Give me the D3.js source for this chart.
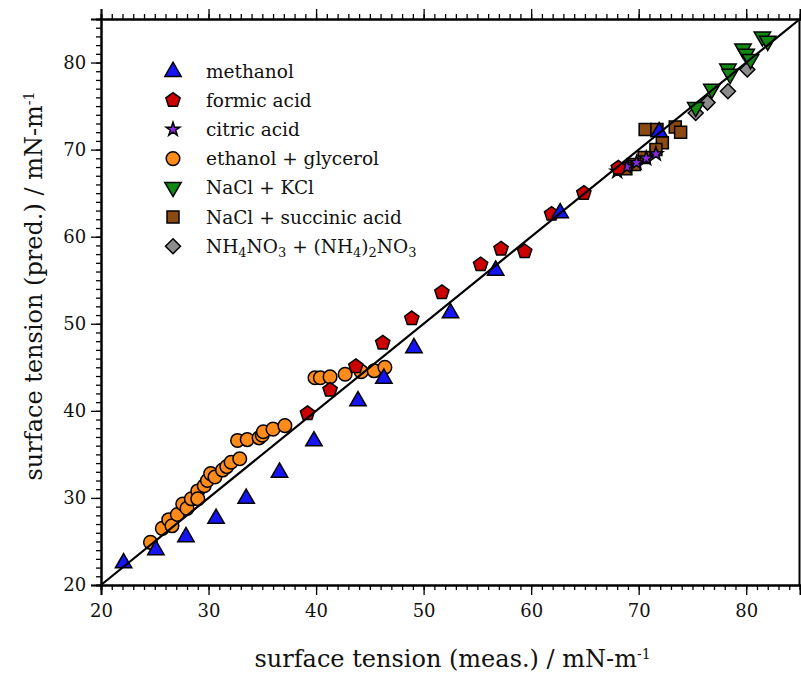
<!DOCTYPE html>
<html>
<head>
<meta charset="utf-8">
<script src="https://cdn.jsdelivr.net/npm/d3@7"></script>
<style>
  body { margin: 0; background: #fff; }
  text { font-family: "DejaVu Serif", "Liberation Serif", serif; fill: #111; }
</style>
</head>
<body>
<svg width="801" height="680"></svg>
<script>
const methanol = [[22.1,22.6],[25.1,24.1],[27.9,25.6],[30.7,27.7],[33.5,30.0],[36.6,33.0],[39.8,36.6],[43.9,41.2],[46.3,43.8],[49.1,47.3],[52.5,51.3],[56.7,56.2],[62.7,62.8],[71.9,72.1]];
const formicAcid = [[39.2,39.7],[41.3,42.4],[43.7,45.1],[46.2,47.8],[48.9,50.6],[51.7,53.6],[55.3,56.8],[57.2,58.6],[59.4,58.3],[61.9,62.6],[64.9,65.0],[68.1,67.9]];
const citricAcid = [[68.0,67.5],[68.9,68.0],[69.8,68.5],[70.7,69.0],[71.6,69.5]];
const ethanolGlycerol = [[24.6,24.9],[25.7,26.5],[26.3,27.5],[26.6,26.8],[27.1,28.1],[27.6,29.3],[28.0,28.8],[28.4,29.9],[29.0,30.8],[29.0,29.9],[29.6,31.4],[29.9,32.0],[30.2,32.8],[30.6,32.4],[31.3,33.2],[31.7,33.6],[32.1,34.1],[32.9,34.5],[32.7,36.6],[33.6,36.7],[34.7,36.9],[35.0,37.2],[35.1,37.6],[36.0,37.9],[37.1,38.3],[39.9,43.8],[40.4,43.8],[41.3,43.9],[42.7,44.2],[44.2,44.5],[45.4,44.6],[46.4,45.0]];
const naclKcl = [[81.5,82.9],[82.0,82.4],[79.7,81.5],[80.0,80.9],[80.4,80.3],[78.3,79.2],[78.5,78.6],[76.8,76.9],[75.3,74.8]];
const naclSuccinic = [[70.6,72.3],[71.7,72.3],[73.4,72.6],[73.9,72.0],[72.2,70.8],[71.6,70.0],[70.5,69.1],[69.6,68.3],[68.8,67.8]];
const ammonium = [[80.1,79.2],[78.3,76.7],[76.4,75.4],[75.3,74.2]];

const seriesNames = ["methanol","formic acid","citric acid","ethanol + glycerol","NaCl + KCl","NaCl + succinic acid","NH4NO3 + (NH4)2NO3"];
const seriesData = [methanol, formicAcid, citricAcid, ethanolGlycerol, naclKcl, naclSuccinic, ammonium];
const seriesShapes = ["triangle","pentagon","star","circle","triangleDown","square","diamond"];
const seriesColors = ["#1414f5","#cc0000","#8a2be2","#ff8c1a","#118811","#8b4a12","#8c8c8c"];

const xDomain = [20, 85];
const yDomain = [20, 85];
const majorTicks = [20, 30, 40, 50, 60, 70, 80];
const minorTicks = d3.range(20, 86, 1);

const svg = d3.select("svg");
const margin = {left: 101, right: 1, top: 19, bottom: 95};
const width = 801, height = 680;

const x = d3.scaleLinear().domain(xDomain).range([margin.left, width - margin.right]);
const y = d3.scaleLinear().domain(yDomain).range([height - margin.bottom, margin.top]);

// marker paths, r roughly = half the marker width
function shape(type, r) {
  if (type === "circle") return d3.symbol(d3.symbolCircle, Math.PI * r * r)();
  if (type === "square") return `M${-r},${-r}H${r}V${r}H${-r}Z`;
  if (type === "diamond") return `M0,${-r}L${r},0L0,${r}L${-r},0Z`;
  if (type === "star") return d3.symbol(d3.symbolStar, r * r * 2.2)();
  if (type === "triangle" || type === "triangleDown") {
    const s = type === "triangle" ? 1 : -1;
    const h = r * Math.sqrt(3);
    return `M0,${-s * h * 0.62}L${r},${s * h * 0.38}L${-r},${s * h * 0.38}Z`;
  }
  if (type === "pentagon") {
    const pts = d3.range(5).map(i => {
      const a = -Math.PI / 2 + i * 2 * Math.PI / 5;
      return [r * Math.cos(a), r * Math.sin(a)];
    });
    return "M" + pts.map(p => p.join(",")).join("L") + "Z";
  }
}
const shapeSize = {circle: 6.8, square: 6, diamond: 7.5, star: 5.2, triangle: 8.2, triangleDown: 8.2, pentagon: 7.5};

// axes
const bottomAxis = svg.append("g").attr("transform", `translate(0,${y(20)})`);
bottomAxis.call(d3.axisBottom(x).tickValues(minorTicks).tickSize(5).tickFormat(""));
bottomAxis.call(g => g.append("g").call(d3.axisBottom(x).tickValues(majorTicks).tickSize(10).tickFormat(d3.format("d"))));
const topAxis = svg.append("g").attr("transform", `translate(0,${y(85)})`);
topAxis.call(d3.axisTop(x).tickValues(minorTicks).tickSize(5).tickFormat(""));
topAxis.call(g => g.append("g").call(d3.axisTop(x).tickValues(majorTicks).tickSize(10).tickFormat("")));
const leftAxis = svg.append("g").attr("transform", `translate(${x(20)},0)`);
leftAxis.call(d3.axisLeft(y).tickValues(minorTicks).tickSize(5).tickFormat(""));
leftAxis.call(g => g.append("g").call(d3.axisLeft(y).tickValues(majorTicks).tickSize(10).tickFormat(d3.format("d"))));
const rightAxis = svg.append("g").attr("transform", `translate(${x(85) - 1},0)`);
rightAxis.call(d3.axisRight(y).tickValues([]).tickSizeOuter(0));

svg.selectAll(".domain").attr("stroke", "#000").attr("stroke-width", 2);
svg.selectAll(".tick line").attr("stroke", "#000").attr("stroke-width", 1.3);
svg.selectAll(".tick text").style("font-size", "18px").attr("fill", "#111");
bottomAxis.selectAll(".tick text").attr("dy", "1.05em");
leftAxis.selectAll(".tick text").attr("dx", "-0.1em");

// markers, last legend entry drawn first
const markerGroup = svg.append("g");
seriesData.map((d, i) => i).reverse().forEach(i => {
  markerGroup.append("g").selectAll("path")
    .data(seriesData[i])
    .join("path")
    .attr("transform", d => `translate(${x(d[0])},${y(d[1])})`)
    .attr("d", shape(seriesShapes[i], shapeSize[seriesShapes[i]]))
    .attr("fill", seriesColors[i])
    .attr("stroke", "#000")
    .attr("stroke-width", 1.5);
});

// 1:1 line
svg.append("line")
  .attr("x1", x(20)).attr("y1", y(20))
  .attr("x2", x(85)).attr("y2", y(85))
  .attr("stroke", "#000").attr("stroke-width", 2.2);

// legend
const legend = svg.append("g").attr("transform", "translate(173,71)");
seriesNames.forEach((name, i) => {
  const row = legend.append("g").attr("transform", `translate(0,${i * 29.2})`);
  row.append("path")
    .attr("d", shape(seriesShapes[i], shapeSize[seriesShapes[i]]))
    .attr("fill", seriesColors[i]).attr("stroke", "#000").attr("stroke-width", 1.5);
  const t = row.append("text").attr("x", 33).attr("y", 6.5).style("font-size", "18.5px");
  if (i === 6) {
    const parts = [["NH", 0], ["4", 1], ["NO", 0], ["3", 1], [" + (NH", 0], ["4", 1], [")", 0], ["2", 1], ["NO", 0], ["3", 1]];
    parts.forEach(p => {
      t.append("tspan").text(p[0])
        .attr("baseline-shift", p[1] ? "-30%" : null)
        .style("font-size", p[1] ? "13px" : null);
    });
  } else {
    t.text(name);
  }
});

// axis titles
const xt = svg.append("text")
  .attr("x", (x(20) + x(85)) / 2 + 2).attr("y", 667)
  .attr("text-anchor", "middle").style("font-size", "24px");
xt.append("tspan").text("surface tension (meas.) / mN-m");
xt.append("tspan").text("-1").attr("baseline-shift", "55%").style("font-size", "14px");

const yt = svg.append("text")
  .attr("transform", `translate(42,${(y(20) + y(85)) / 2 - 16}) rotate(-90)`)
  .attr("text-anchor", "middle").style("font-size", "24px");
yt.append("tspan").text("surface tension (pred.) / mN-m");
yt.append("tspan").text("-1").attr("baseline-shift", "55%").style("font-size", "14px");
</script>
</body>
</html>
